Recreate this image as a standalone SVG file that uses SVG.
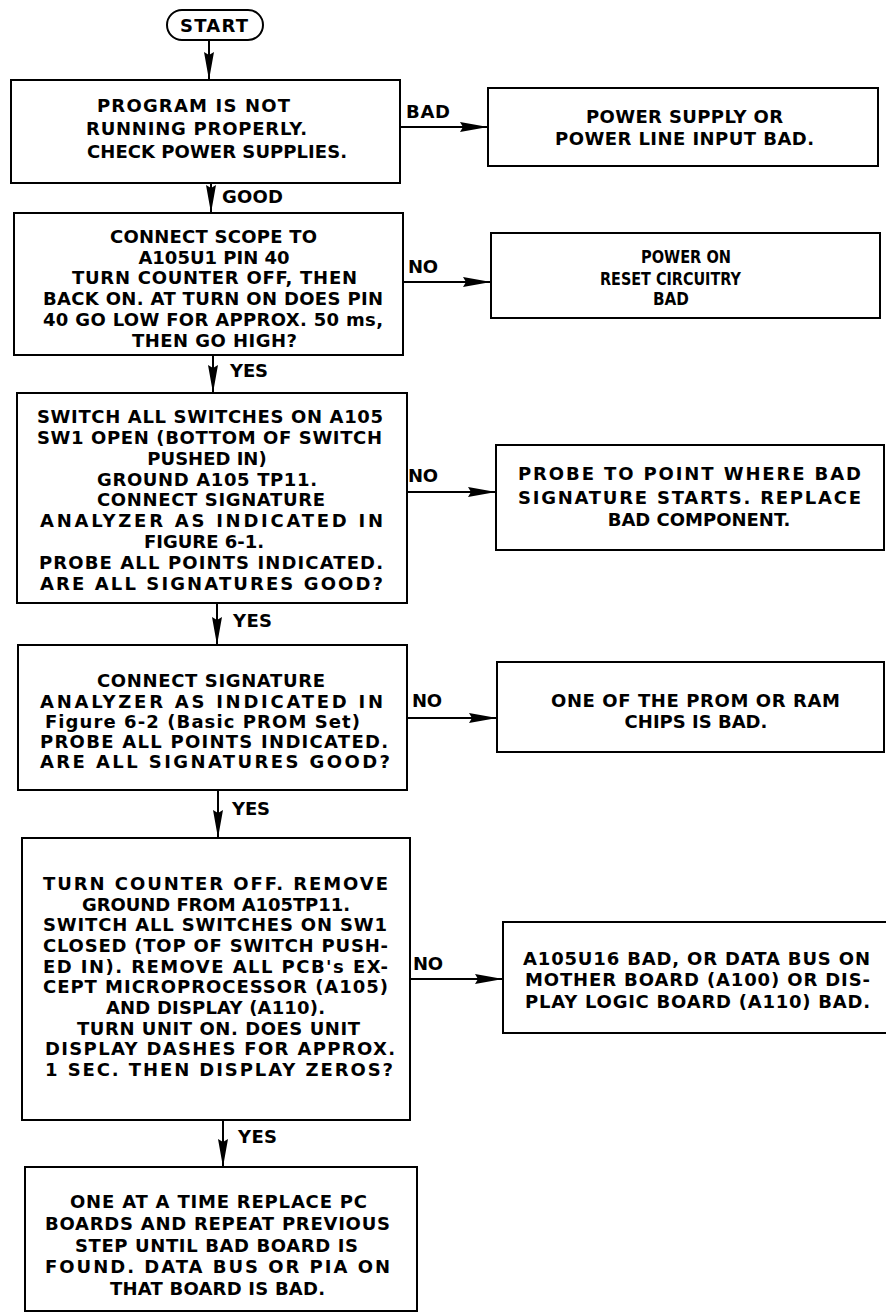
<svg xmlns="http://www.w3.org/2000/svg" width="886" height="1314" viewBox="0 0 886 1314">
  <style>
    .box { fill: #fff; stroke: #000; stroke-width: 2; }
    .t { font-family: "DejaVu Sans", "Liberation Sans", sans-serif; font-weight: bold; font-size: 18px; fill: #000; }
    .c { text-anchor: middle; }
    .flow { stroke: #000; stroke-width: 2; fill: none; marker-end: url(#head); }
  </style>
  <defs>
    <marker id="head" markerUnits="userSpaceOnUse" markerWidth="30" markerHeight="12" refX="28" refY="6" orient="auto">
      <path d="M0,1 L28,6 L0,11 L3,6 Z" fill="#000"/>
    </marker>
  </defs>
  <rect width="886" height="1314" fill="#fff"/>

  <!-- connectors and their branch labels -->
  <g id="connectors">
    <line class="flow" x1="209" y1="40" x2="209" y2="80"/>
    <line class="flow" x1="400" y1="127" x2="488" y2="127"/>
    <text class="t" x="406" y="118" textLength="44" lengthAdjust="spacing">BAD</text>
    <line class="flow" x1="211" y1="183" x2="211" y2="213"/>
    <text class="t" x="222" y="203" textLength="61" lengthAdjust="spacing">GOOD</text>
    <line class="flow" x1="403" y1="282" x2="491" y2="282"/>
    <text class="t" x="408" y="273" textLength="30" lengthAdjust="spacing">NO</text>
    <line class="flow" x1="213" y1="355" x2="213" y2="393"/>
    <text class="t" x="230" y="377" textLength="38" lengthAdjust="spacing">YES</text>
    <line class="flow" x1="407" y1="492" x2="496" y2="492"/>
    <text class="t" x="408" y="482" textLength="30" lengthAdjust="spacing">NO</text>
    <line class="flow" x1="217" y1="603" x2="217" y2="645"/>
    <text class="t" x="233" y="627" textLength="39" lengthAdjust="spacing">YES</text>
    <line class="flow" x1="407" y1="718" x2="497" y2="718"/>
    <text class="t" x="412" y="707" textLength="30" lengthAdjust="spacing">NO</text>
    <line class="flow" x1="218" y1="790" x2="218" y2="838"/>
    <text class="t" x="232" y="815" textLength="38" lengthAdjust="spacing">YES</text>
    <line class="flow" x1="410" y1="979" x2="503" y2="979"/>
    <text class="t" x="413" y="970" textLength="30" lengthAdjust="spacing">NO</text>
    <line class="flow" x1="223" y1="1120" x2="223" y2="1167"/>
    <text class="t" x="238" y="1143" textLength="39" lengthAdjust="spacing">YES</text>
  </g>

  <g id="start">
    <rect class="box" x="167" y="10" width="96" height="30" rx="15"/>
    <text class="t" x="180" y="32" textLength="68" lengthAdjust="spacing">START</text>
  </g>

  <g id="check-power">
    <rect class="box" x="11" y="80" width="389" height="103"/>
    <text class="t" x="97" y="112" textLength="193" lengthAdjust="spacing">PROGRAM IS NOT</text>
    <text class="t" x="86" y="135" textLength="221" lengthAdjust="spacing">RUNNING PROPERLY.</text>
    <text class="t" x="87" y="158" textLength="260" lengthAdjust="spacing">CHECK POWER SUPPLIES.</text>
  </g>

  <g id="power-bad">
    <rect class="box" x="488" y="88" width="390" height="78"/>
    <text class="t" x="586" y="123" textLength="197" lengthAdjust="spacing">POWER SUPPLY OR</text>
    <text class="t" x="555" y="145" textLength="259" lengthAdjust="spacing">POWER LINE INPUT BAD.</text>
  </g>

  <g id="scope-check">
    <rect class="box" x="14" y="213" width="389" height="142"/>
    <text class="t" x="110" y="243" textLength="207" lengthAdjust="spacing">CONNECT SCOPE TO</text>
    <text class="t c" x="214" y="264">A105U1 PIN 40</text>
    <text class="t" x="72" y="284" textLength="285" lengthAdjust="spacing">TURN COUNTER OFF, THEN</text>
    <text class="t" x="43" y="305" textLength="340" lengthAdjust="spacing">BACK ON. AT TURN ON DOES PIN</text>
    <text class="t" x="43" y="326" textLength="340" lengthAdjust="spacing">40 GO LOW FOR APPROX. 50 ms,</text>
    <text class="t" x="132" y="347" textLength="165" lengthAdjust="spacing">THEN GO HIGH?</text>
  </g>

  <!-- this box is set in a condensed face -->
  <g id="reset-bad">
    <rect class="box" x="491" y="233" width="389" height="85"/>
    <text class="t" x="641" y="263" textLength="90" lengthAdjust="spacingAndGlyphs">POWER ON</text>
    <text class="t" x="600" y="285" textLength="141" lengthAdjust="spacingAndGlyphs">RESET CIRCUITRY</text>
    <text class="t" x="653" y="305" textLength="36" lengthAdjust="spacingAndGlyphs">BAD</text>
  </g>

  <g id="signature-6-1">
    <rect class="box" x="17" y="393" width="390" height="210"/>
    <text class="t" x="37" y="423" textLength="346" lengthAdjust="spacing">SWITCH ALL SWITCHES ON A105</text>
    <text class="t" x="37" y="444" textLength="345" lengthAdjust="spacing">SW1 OPEN (BOTTOM OF SWITCH</text>
    <text class="t c" x="207" y="465">PUSHED IN)</text>
    <text class="t" x="97" y="486" textLength="220" lengthAdjust="spacing">GROUND A105 TP11.</text>
    <text class="t" x="97" y="506" textLength="228" lengthAdjust="spacing">CONNECT SIGNATURE</text>
    <text class="t" x="40" y="527" textLength="343" lengthAdjust="spacing">ANALYZER AS INDICATED IN</text>
    <text class="t c" x="204" y="548">FIGURE 6-1.</text>
    <text class="t" x="39" y="569" textLength="344" lengthAdjust="spacing">PROBE ALL POINTS INDICATED.</text>
    <text class="t" x="40" y="590" textLength="343" lengthAdjust="spacing">ARE ALL SIGNATURES GOOD?</text>
  </g>

  <g id="probe-bad">
    <rect class="box" x="496" y="445" width="388" height="105"/>
    <text class="t" x="518" y="480" textLength="343" lengthAdjust="spacing">PROBE TO POINT WHERE BAD</text>
    <text class="t" x="518" y="504" textLength="343" lengthAdjust="spacing">SIGNATURE STARTS. REPLACE</text>
    <text class="t c" x="699" y="526">BAD COMPONENT.</text>
  </g>

  <g id="signature-6-2">
    <rect class="box" x="18" y="645" width="389" height="145"/>
    <text class="t" x="97" y="687" textLength="228" lengthAdjust="spacing">CONNECT SIGNATURE</text>
    <text class="t" x="40" y="708" textLength="343" lengthAdjust="spacing">ANALYZER AS INDICATED IN</text>
    <text class="t" x="45" y="728" textLength="315" lengthAdjust="spacing">Figure 6-2 (Basic PROM Set)</text>
    <text class="t" x="40" y="748" textLength="348" lengthAdjust="spacing">PROBE ALL POINTS INDICATED.</text>
    <text class="t" x="40" y="768" textLength="350" lengthAdjust="spacing">ARE ALL SIGNATURES GOOD?</text>
  </g>

  <g id="prom-ram-bad">
    <rect class="box" x="497" y="662" width="387" height="90"/>
    <text class="t" x="551" y="707" textLength="289" lengthAdjust="spacing">ONE OF THE PROM OR RAM</text>
    <text class="t c" x="696" y="728">CHIPS IS BAD.</text>
  </g>

  <g id="display-test">
    <rect class="box" x="22" y="838" width="388" height="282"/>
    <text class="t" x="43" y="890" textLength="345" lengthAdjust="spacing">TURN COUNTER OFF. REMOVE</text>
    <text class="t" x="82" y="910.7" textLength="268" lengthAdjust="spacing">GROUND FROM A105TP11.</text>
    <text class="t" x="43" y="931.3" textLength="344" lengthAdjust="spacing">SWITCH ALL SWITCHES ON SW1</text>
    <text class="t" x="43" y="952" textLength="345" lengthAdjust="spacing">CLOSED (TOP OF SWITCH PUSH-</text>
    <text class="t" x="43" y="972.7" textLength="345" lengthAdjust="spacing">ED IN). REMOVE ALL PCB's EX-</text>
    <text class="t" x="43" y="993.3" textLength="345" lengthAdjust="spacing">CEPT MICROPROCESSOR (A105)</text>
    <text class="t" x="106" y="1014" textLength="219" lengthAdjust="spacing">AND DISPLAY (A110).</text>
    <text class="t" x="77" y="1034.7" textLength="283" lengthAdjust="spacing">TURN UNIT ON. DOES UNIT</text>
    <text class="t" x="45" y="1055.3" textLength="350" lengthAdjust="spacing">DISPLAY DASHES FOR APPROX.</text>
    <text class="t" x="45" y="1076" textLength="348" lengthAdjust="spacing">1 SEC. THEN DISPLAY ZEROS?</text>
  </g>

  <g id="data-bus-bad">
    <rect class="box" x="503" y="922" width="400" height="111"/>
    <text class="t" x="523" y="965" textLength="347" lengthAdjust="spacing">A105U16 BAD, OR DATA BUS ON</text>
    <text class="t" x="525" y="986" textLength="345" lengthAdjust="spacing">MOTHER BOARD (A100) OR DIS-</text>
    <text class="t" x="525" y="1008" textLength="345" lengthAdjust="spacing">PLAY LOGIC BOARD (A110) BAD.</text>
  </g>

  <g id="replace-boards">
    <rect class="box" x="25" y="1167" width="392" height="144"/>
    <text class="t" x="70" y="1208" textLength="297" lengthAdjust="spacing">ONE AT A TIME REPLACE PC</text>
    <text class="t" x="45" y="1230" textLength="345" lengthAdjust="spacing">BOARDS AND REPEAT PREVIOUS</text>
    <text class="t" x="75" y="1252" textLength="283" lengthAdjust="spacing">STEP UNTIL BAD BOARD IS</text>
    <text class="t" x="45" y="1273" textLength="345" lengthAdjust="spacing">FOUND. DATA BUS OR PIA ON</text>
    <text class="t" x="110" y="1295" textLength="215" lengthAdjust="spacing">THAT BOARD IS BAD.</text>
  </g>
</svg>
